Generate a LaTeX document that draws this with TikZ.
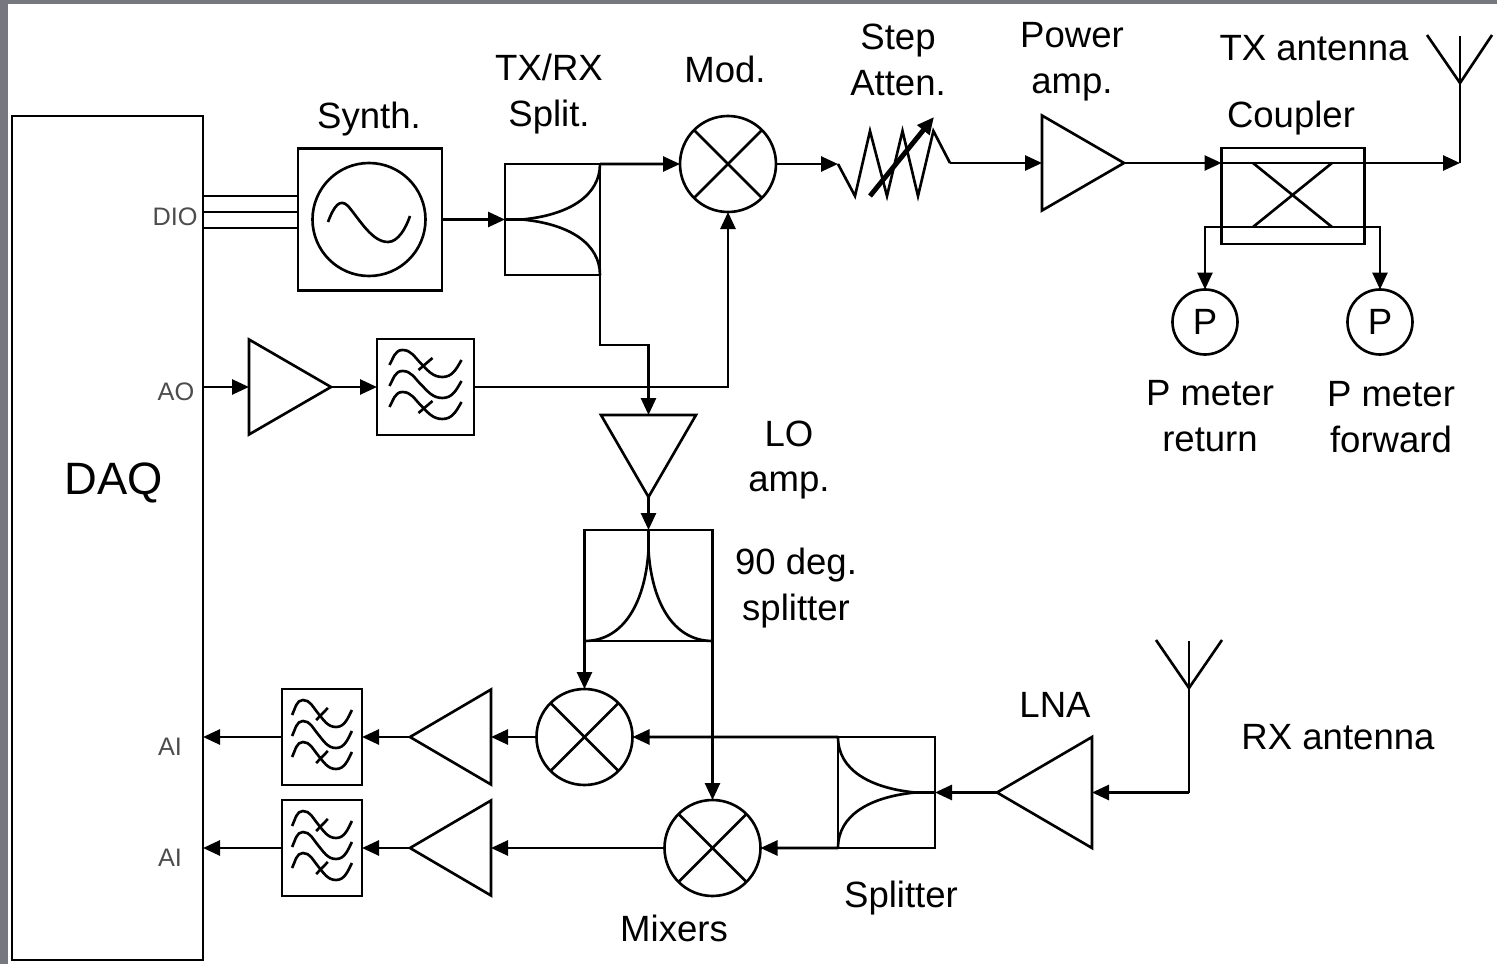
\documentclass[tikz,border=0pt]{standalone}
\usepackage{fontspec}
\setmainfont{Liberation Sans}
\usetikzlibrary{arrows.meta,shapes.geometric}
\definecolor{framegray}{HTML}{77777F}
\tikzset{
  every path/.style={line width=.75pt},
  >={Triangle[length=.17cm,width=.15cm]},
  block/.style={draw,rectangle,inner sep=0pt,outer sep=0pt},
  mixer/.style={draw,circle,inner sep=0pt,outer sep=0pt,minimum size=.96cm,
    path picture={
      \draw (path picture bounding box.north west) -- (path picture bounding box.south east);
      \draw (path picture bounding box.north east) -- (path picture bounding box.south west);}},
  meter/.style={draw,circle,inner sep=0pt,outer sep=0pt,minimum size=.65cm,font=\fontsize{10.4}{13}\selectfont},
  amp/.style={draw,isosceles triangle,isosceles triangle stretches,inner sep=0pt,outer sep=0pt,
    minimum width=.95cm,minimum height=.82cm,anchor=apex},
  lbl/.style={font=\fontsize{10.4}{13}\selectfont,align=center,inner sep=0pt},
  port/.style={font=\fontsize{7.2}{9}\selectfont,text=black!70,inner sep=0pt},
  lpfsym/.pic={
    \draw (-.36,.22) to[out=60,in=180] (-.23,.37) to[out=0,in=135] (-.05,.24) to[out=-45,in=180] (.17,.10) to[out=0,in=-120] (.36,.27);
    \draw (-.36,.01) to[out=60,in=180] (-.23,.16) to[out=0,in=135] (-.05,.03) to[out=-45,in=180] (.17,-.11) to[out=0,in=-120] (.36,.06);
    \draw (-.36,-.20) to[out=60,in=180] (-.23,-.05) to[out=0,in=135] (-.05,-.18) to[out=-45,in=180] (.17,-.32) to[out=0,in=-120] (.36,-.15);
    \draw (-.07,.17) -- (.07,.29);
    \draw (-.07,-.26) -- (.07,-.14);
  }
}
\begin{document}
\begin{tikzpicture}
\useasboundingbox (0,0) rectangle (14.97,-9.64);
\fill[framegray] (0,0) rectangle (14.97,-.04);
\fill[framegray] (0,0) rectangle (.08,-9.64);

\node[block,minimum width=1.91cm,minimum height=8.44cm] (daq) at (1.075,-5.38) {};
\node[font=\fontsize{12.9}{15}\selectfont,inner sep=0pt] (daqtext) at (1.14,-4.83) {DAQ};
\node[port] (diotext) at (1.75,-2.17) {DIO};
\node[port] (aotext) at (1.76,-3.92) {AO};
\node[port] (aiitext) at (1.70,-7.47) {AI};
\node[port] (aiqtext) at (1.70,-8.58) {AI};
\coordinate (dio1) at (2.03,-1.96);
\coordinate (dio2) at (2.03,-2.12);
\coordinate (dio3) at (2.03,-2.28);
\coordinate (ao) at (2.03,-3.87);
\coordinate (aii) at (2.03,-7.37);
\coordinate (aiq) at (2.03,-8.48);

\node[block,minimum width=1.44cm,minimum height=1.42cm] (synth) at (3.70,-2.195) {};
\node[draw,circle,inner sep=0pt,outer sep=0pt,minimum size=1.13cm] (osc) at (3.69,-2.195) {};
\draw (3.28,-2.22) .. controls (3.34,-2.06) and (3.40,-1.98) .. (3.48,-2.06) .. controls (3.60,-2.20) and (3.72,-2.42) .. (3.88,-2.42) .. controls (3.98,-2.42) and (4.06,-2.28) .. (4.10,-2.16);
\node[lbl] (synthtext) at (3.69,-1.19) {Synth.};
\draw (dio1) -- (dio1 -| synth.west);
\draw (dio2) -- (dio2 -| synth.west);
\draw (dio3) -- (dio3 -| synth.west);

\node[block,minimum width=.95cm,minimum height=1.11cm] (txsplit) at (5.525,-2.195) {};
\node[lbl] (txsplittext) at (5.49,-.94) {TX/RX\\Split.};
\draw[->] (synth.east) -- (txsplit.west);
\draw (txsplit.west) -- (5.22,-2.195) .. controls (5.70,-2.15) and (6.00,-1.95) .. (txsplit.north east);
\draw (txsplit.west) -- (5.22,-2.195) .. controls (5.70,-2.24) and (6.00,-2.44) .. (txsplit.south east);

\node[mixer] (mod) at (7.28,-1.64) {};
\node[lbl] (modtext) at (7.25,-.69) {Mod.};
\draw[->] (txsplit.north east) -- (mod.west);

\node[amp] (aoamp) at (3.31,-3.87) {};
\node[block,minimum width=.97cm,minimum height=.96cm] (lpfa) at (4.255,-3.87) {};
\pic at (lpfa) {lpfsym};
\draw[->] (ao) -- (aoamp.lower side);
\draw[->] (aoamp.apex) -- (lpfa.west);
\draw[->] (lpfa.east) -| (mod.south);

\node[amp,shape border rotate=-90] (loamp) at (6.485,-4.97) {};
\node[lbl] (loamptext) at (7.89,-4.60) {LO\\amp.};
\draw[->] (txsplit.south east) |- (6.485,-3.45) -- (loamp.lower side);

\coordinate (attin) at (8.38,-1.64);
\coordinate (attout) at (9.50,-1.63);
\draw (attin) -- (8.55,-1.96) -- (8.70,-1.31) -- (8.87,-1.96) -- (9.025,-1.31) -- (9.18,-1.96) -- (9.334,-1.31) -- (attout);
\draw[->,line width=1.4pt] (8.70,-1.96) -- (9.34,-1.17);
\node[lbl] (atttext) at (8.98,-.60) {Step\\Atten.};
\draw[->] (mod.east) -- (attin);

\node[amp,shape border rotate=0] (pa) at (11.24,-1.63) {};
\node[lbl] (patext) at (10.72,-.62) {Power\\amp.};
\draw[->] (attout) -- (pa.lower side);

\node[block,minimum width=1.43cm,minimum height=.96cm] (coupler) at (12.93,-1.96) {};
\node[lbl] (couplertext) at (12.91,-1.18) {Coupler};
\coordinate (cplin) at (coupler.west |- pa.apex);
\coordinate (txcorner) at (14.60,-1.63);
\coordinate (txant) at (14.60,-.83);
\coordinate (txtop) at (14.60,-.36);
\coordinate (txleft) at (14.27,-.35);
\coordinate (txright) at (14.92,-.35);
\node[lbl] (txanttext) at (13.14,-.48) {TX antenna};
\draw (txleft) -- (txant) -- (txright);
\draw (txtop) -- (txcorner);
\draw[->] (pa.apex) -- (cplin);
\draw[->] (cplin) -- (txcorner);
\draw (12.53,-1.63) -- (13.32,-2.27);
\draw (13.32,-1.63) -- (12.53,-2.27);

\node[meter] (pret) at (12.05,-3.22) {P};
\node[meter] (pfwd) at (13.80,-3.22) {P};
\node[lbl] (prettext) at (12.10,-4.16) {P meter\\return};
\node[lbl] (pfwdtext) at (13.91,-4.17) {P meter\\forward};
\coordinate (cplbus) at (12.93,-2.27);
\draw[->] (cplbus) -| (pret.north);
\draw[->] (cplbus) -| (pfwd.north);

\node[block,minimum width=1.28cm,minimum height=1.11cm] (qsplit) at (6.485,-5.855) {};
\node[lbl] (qsplittext) at (7.96,-5.88) {90 deg.\\splitter};
\draw[->] (loamp.apex) -- (qsplit.north);
\draw (qsplit.north) -- (6.485,-5.5) .. controls (6.455,-6.0) and (6.25,-6.41) .. (qsplit.south west);
\draw (qsplit.north) -- (6.485,-5.5) .. controls (6.515,-6.0) and (6.72,-6.41) .. (qsplit.south east);

\node[mixer] (mixi) at (5.845,-7.37) {};
\node[mixer] (mixq) at (7.125,-8.48) {};
\node[lbl] (mixtext) at (6.74,-9.28) {Mixers};
\draw[->] (qsplit.south west) -- (mixi.north);
\draw[->] (qsplit.south east) -- (mixq.north);

\node[amp,shape border rotate=180,minimum height=.81cm] (ampi) at (4.10,-7.37) {};
\node[amp,shape border rotate=180,minimum height=.81cm] (ampq) at (4.10,-8.48) {};
\node[block,minimum width=.80cm,minimum height=.96cm] (lpfi) at (3.22,-7.37) {};
\node[block,minimum width=.80cm,minimum height=.96cm] (lpfq) at (3.22,-8.48) {};
\pic[xscale=.83] at (lpfi) {lpfsym};
\pic[xscale=.83] at (lpfq) {lpfsym};
\draw[->] (mixi.west) -- (ampi.lower side);
\draw[->] (mixq.west) -- (ampq.lower side);
\draw[->] (ampi.apex) -- (lpfi.east);
\draw[->] (ampq.apex) -- (lpfq.east);
\draw[->] (lpfi.west) -- (aii);
\draw[->] (lpfq.west) -- (aiq);

\node[block,minimum width=.97cm,minimum height=1.11cm] (rxsplit) at (8.865,-7.925) {};
\node[lbl] (rxsplittext) at (9.01,-8.98) {Splitter};
\draw (rxsplit.east) -- (9.15,-7.925) .. controls (8.70,-7.88) and (8.38,-7.70) .. (rxsplit.north west);
\draw (rxsplit.east) -- (9.15,-7.925) .. controls (8.70,-7.97) and (8.38,-8.15) .. (rxsplit.south west);
\draw[->] (rxsplit.north west) -- (mixi.east);
\draw[->] (rxsplit.south west) -- (mixq.east);

\node[amp,shape border rotate=180,minimum width=1.11cm,minimum height=.95cm] (lna) at (9.97,-7.925) {};
\node[lbl] (lnatext) at (10.55,-7.05) {LNA};
\draw[->] (lna.apex) -- (rxsplit.east);

\coordinate (rxcorner) at (11.89,-7.925);
\coordinate (rxant) at (11.89,-6.88);
\coordinate (rxtop) at (11.89,-6.41);
\coordinate (rxleft) at (11.56,-6.40);
\coordinate (rxright) at (12.22,-6.40);
\node[lbl] (rxanttext) at (13.38,-7.37) {RX antenna};
\draw (rxleft) -- (rxant) -- (rxright);
\draw (rxtop) -- (rxcorner);
\draw[->] (rxcorner) -- (lna.lower side);
\end{tikzpicture}
\end{document}
